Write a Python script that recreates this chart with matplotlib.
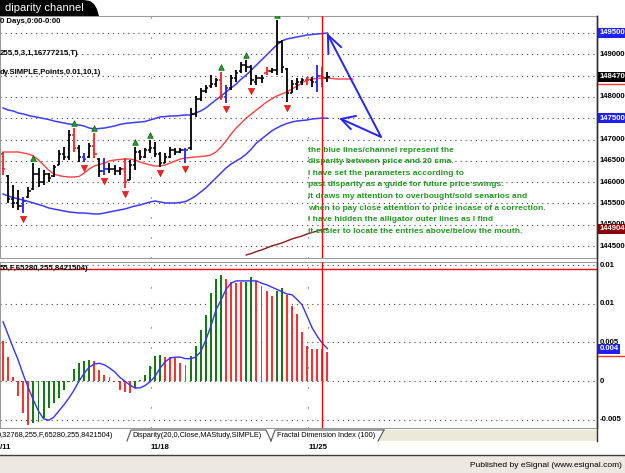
import matplotlib
matplotlib.use("Agg")
import matplotlib.pyplot as plt
from matplotlib.patches import Polygon, Rectangle
from matplotlib.lines import Line2D
import numpy as np

plt.rcParams['font.family'] = ['Liberation Sans', 'DejaVu Sans']

W, H = 625, 473

# price bars (65 bars)
opens = [146650, 146150, 145600, 145500, 145450, 145650, 145850, 146200, 146000, 146200,
         146150, 146400, 146650, 146600, 147100, 146800, 146600, 146600, 146850, 146550,
         146250, 146300, 146300, 146250, 146300, 146050, 146400, 146700, 146600, 146750,
         146800, 146650, 146450, 146600, 146750, 146700, 146750, 146800, 147600, 147950,
         148150, 148250, 148300, 148400, 148000, 148200, 148450, 148600, 148750, 148700,
         148350, 148450, 148550, 148600, 148620, 149300, 148650, 148100, 148300, 148350,
         148400, 148400, 148350, 148500, 148450]
highs = [146710, 146170, 145930, 145815, 145650, 145885, 146450, 146330, 146285, 146215,
         146400, 146755, 146825, 147225, 147270, 146870, 146685, 146920, 147155, 146565,
         146565, 146450, 146400, 146355, 146565, 146520, 146825, 146755, 146800, 146990,
         146940, 146705, 146685, 146825, 146800, 146800, 146800, 147740, 148020, 148210,
         148280, 148515, 148445, 148585, 148280, 148515, 148630, 148820, 148865, 148750,
         148515, 148515, 148700, 148680, 149805, 149335, 148680, 148395, 148445, 148445,
         148465, 148465, 148750, 148700, 148585]
lows = [146170, 145510, 145390, 145345, 145275, 145625, 145815, 145885, 145930, 146005,
        146120, 146400, 146520, 146520, 146710, 146470, 146470, 146565, 146565, 146120,
        146165, 146215, 146165, 146165, 145860, 146050, 146285, 146520, 146565, 146685,
        146590, 146355, 146450, 146565, 146635, 146685, 146450, 146755, 147530, 147905,
        148090, 148210, 148235, 147930, 147855, 148160, 148350, 148560, 148585, 148280,
        148280, 148325, 148515, 148560, 148515, 148560, 147880, 148090, 148160, 148280,
        148280, 148235, 148115, 148235, 148350]
closes = [146300, 145600, 145500, 145450, 145550, 145800, 146200, 146000, 146200, 146100,
          146350, 146650, 146600, 147100, 146800, 146600, 146550, 146850, 146650, 146250,
          146300, 146300, 146250, 146300, 146000, 146400, 146700, 146600, 146750, 146800,
          146650, 146450, 146600, 146750, 146700, 146750, 146750, 147600, 147950, 148150,
          148200, 148300, 148400, 148000, 148200, 148450, 148550, 148750, 148700, 148400,
          148450, 148450, 148600, 148620, 149300, 148700, 148100, 148300, 148350, 148400,
          148400, 148350, 148500, 148450, 148470]
red_bars = [0, 14, 18, 24, 43, 52, 60, 63]
blue_bars = [4, 16, 20, 36, 44, 62]
up_fractals = [6, 14, 18, 26, 29, 43, 48, 54]
down_fractals = [4, 16, 20, 24, 31, 36, 44, 49, 56]

# disparity channel
upper_band = [147740, 147693, 147670, 147623, 147599, 147564, 147540, 147517, 147493, 147470,
              147435, 147411, 147388, 147364, 147353, 147341, 147317, 147270, 147247, 147259,
              147270, 147294, 147317, 147353, 147376, 147388, 147400, 147411, 147423, 147458,
              147493, 147529, 147540, 147552, 147552, 147564, 147576, 147576, 147623, 147670,
              147740, 147834, 147928, 148021, 148115, 148209, 148303, 148420, 148514, 148632,
              148749, 148866, 148984, 149101, 149218, 149312, 149359, 149383, 149406, 149430,
              149453, 149465, 149477, 149488, 149500]
lower_band = [145721, 145674, 145639, 145604, 145580, 145545, 145510, 145475, 145440, 145393,
              145369, 145346, 145322, 145299, 145287, 145275, 145275, 145264, 145252, 145252,
              145275, 145299, 145322, 145346, 145369, 145404, 145440, 145463, 145498, 145533,
              145557, 145533, 145510, 145510, 145510, 145522, 145545, 145604, 145674, 145768,
              145862, 145979, 146097, 146214, 146332, 146425, 146496, 146566, 146660, 146777,
              146918, 147012, 147106, 147200, 147270, 147329, 147376, 147411, 147435, 147447,
              147458, 147482, 147493, 147505, 147500]
sma20 = [146707, 146707, 146707, 146707, 146684, 146660, 146613, 146519, 146402, 146284,
         146190, 146155, 146132, 146120, 146120, 146132, 146214, 146308, 146378, 146414,
         146449, 146496, 146519, 146531, 146543, 146543, 146519, 146472, 146437, 146402,
         146378, 146378, 146402, 146449, 146496, 146543, 146566, 146578, 146590, 146601,
         146613, 146637, 146707, 146824, 146965, 147130, 147270, 147388, 147505, 147599,
         147693, 147787, 147881, 147951, 148021, 148068, 148115, 148186, 148256, 148327,
         148397, 148420, 148432, 148444, 148444, 148432, 148420, 148420, 148420, 148420]
lips = [144290, 144325, 144372, 144407, 144454, 144501, 144536, 144571, 144619, 144666,
        144701, 144736, 144783, 144818, 144853, 144888, 144904]
lips_start = 48

# disparity histogram
hist = [0.0052, 0.0031, 0.0005, -0.0020, -0.0041, -0.0057, -0.0055, -0.0053, -0.0048, -0.0035,
        -0.0029, -0.0022, -0.0012, -0.0001, 0.0016, 0.0024, 0.0026, 0.0027, 0.0026, 0.0014,
        0.0008, 0.0005, -0.0001, -0.0012, -0.0014, -0.0016, -0.0009, 0.0001, 0.0008, 0.0019,
        0.0033, 0.0034, 0.0031, 0.0031, 0.0030, 0.0024, 0.0021, 0.0032, 0.0046, 0.0066,
        0.0086, 0.0114, 0.0133, 0.0137, 0.0132, 0.0129, 0.0127, 0.0128, 0.0129, 0.0135,
        0.0130, 0.0123, 0.0117, 0.0111, 0.0117, 0.0121, 0.0112, 0.0097, 0.0087, 0.0063,
        0.0045, 0.0042, 0.0041, 0.0041, 0.0038]
hist_cols = "rrrrrr" + "gggggggggggg" + "rrrrrrrr" + "gggggg" + "rrrrr" + "ggggggg" + \
            "rrrr" + "gg" + "rrrr" + "gg" + "rrrrrrr" + "b" + "r"
hist_ma = [0.0077, 0.0060, 0.0043, 0.0027, 0.0008, -0.0009, -0.0025, -0.0039, -0.0049, -0.0051,
           -0.0047, -0.0039, -0.0031, -0.0022, -0.0012, 0.0000, 0.0010, 0.0018, 0.0022, 0.0023,
           0.0021, 0.0017, 0.0012, 0.0005, 0.0000, -0.0005, -0.0009, -0.0009, -0.0006, -0.0001,
           0.0006, 0.0017, 0.0025, 0.0030, 0.0031, 0.0031, 0.0029, 0.0029, 0.0031, 0.0038,
           0.0053, 0.0071, 0.0092, 0.0105, 0.0119, 0.0127, 0.0130, 0.0130, 0.0130, 0.0130,
           0.0130, 0.0127, 0.0125, 0.0122, 0.0119, 0.0116, 0.0113, 0.0112, 0.0106, 0.0099,
           0.0084, 0.0069, 0.0058, 0.0049, 0.0042]

dates = ['11/11', '11/18', '11/25']
date_pos = [-2.0, 29.2, 60.2]
cursor_bar = 63
cursor_val = 0.0146
price_marker = 148300
disp_marker = 0.0033

price_ticks = [149500, 149000, 148500, 148000, 147500, 147000, 146500, 146000, 145500, 145000, 144500]
disp_ticks = [0.015, 0.01, 0.005, 0.0, -0.005]
disp_labels = ['0.01', '0.01', '0.005', '0', '-0.005']

note = ["the blue lines/channel represent the",
        "disparity between price and 20 sma.",
        "I have set the parameters according to",
        "past disparity as a guide for future price swings.",
        "It draws my attention to overbought/sold senarios and",
        "when to pay close attention to price incase of a correction.",
        "I have hidden the alligator outer lines as I find",
        "it easier to locate the entries above/below the mouth."]

# hand drawn arrows (bar index, price)
arrow_shaft = [(64.1, 149453), (74.6, 147059), (66.7, 147482)]
arrow_heads = [[(66.7, 149171), (64.1, 149453), (64.2, 149010)],
               [(69.6, 147552), (66.7, 147482), (68.6, 147247)]]


def fx(x):
    return x / W


def fy(y):
    return 1 - y / H


def fig_line(fig, pts, **kw):
    fig.add_artist(Line2D([fx(p[0]) for p in pts], [fy(p[1]) for p in pts],
                          transform=fig.transFigure, **kw))


fig = plt.figure(figsize=(6.25, 4.73), dpi=100)
fig.patch.set_facecolor('white')

ax1 = fig.add_axes([0, fy(258), fx(597), (258 - 16) / H])
ax2_bottom, ax2_height = fy(428), (428 - 262) / H
ax2 = fig.add_axes([0, ax2_bottom, fx(597), ax2_height])

for ax in (ax1, ax2):
    ax.set_xlim(-0.6, 117.2)
    ax.set_xticks([])
    ax.set_yticks([])
    for s in ax.spines.values():
        s.set_color('#9a9a9a')
        s.set_linewidth(0.8)
    ax.spines['right'].set_color('#303030')
    ax.spines['right'].set_linewidth(1.0)
    for d in date_pos[1:]:
        ax.axvline(d, color='#555555', lw=0.8, ls=(0, (1, 17)), zorder=0)

ax1.set_ylim(144219, 149899)
ax2.set_ylim(-0.0061, 0.01545)

# dotted grid
for p in price_ticks:
    ax1.axhline(p, color='#444444', lw=0.8, ls=(0, (1, 3.6)), zorder=0)
for v in disp_ticks:
    ax2.axhline(v, color='#444444', lw=0.8, ls=(0, (1, 3.6)), zorder=0)

# top panel
idx = np.arange(len(highs))
cols = ['black'] * len(highs)
for i in red_bars:
    cols[i] = '#ff2020'
for i in blue_bars:
    cols[i] = '#2020ff'

ax1.plot(np.arange(len(upper_band)), upper_band, color='#3c3cff', lw=1.1, zorder=2)
ax1.plot(np.arange(len(lower_band)), lower_band, color='#3c3cff', lw=1.1, zorder=2)
ax1.plot(np.arange(len(sma20)), sma20, color='#ff4040', lw=1.0, zorder=2)
ax1.plot(np.arange(lips_start, lips_start + len(lips)), lips, color='#8b1a1a', lw=1.0, zorder=2)

ax1.vlines(idx, lows, highs, colors=cols, lw=1.3, zorder=3)
ax1.hlines(opens, idx - 0.45, idx, colors=cols, lw=1.1, zorder=3)
ax1.hlines(closes, idx, idx + 0.45, colors=cols, lw=1.1, zorder=3)

ax1.scatter(up_fractals, [highs[i] + 120 for i in up_fractals], marker='^', s=16,
            color='#22a022', edgecolors='#0b5a0b', linewidths=0.5, zorder=4)
ax1.scatter(down_fractals, [lows[i] - 150 for i in down_fractals], marker='v', s=20,
            color='#ff2020', edgecolors='#cc0000', linewidths=0.4, zorder=4)

ax1.plot([p[0] for p in arrow_shaft], [p[1] for p in arrow_shaft], color='#2424ff',
         lw=1.4, clip_on=False, zorder=5)
for head in arrow_heads:
    ax1.plot([p[0] for p in head], [p[1] for p in head], color='#2424ff', lw=1.4,
             clip_on=False, zorder=5)

ax1.axvline(cursor_bar, color='red', lw=1.0, zorder=4)

# bottom panel
bar_colors = {'r': '#ff3030', 'g': '#127a12', 'b': '#2a8ad8'}
ax2.bar(idx, hist, width=0.38, color=[bar_colors[c] for c in hist_cols], zorder=2)
ax2.plot(np.arange(len(hist_ma)), hist_ma, color='#3434ff', lw=1.0, zorder=3)
ax2.axvline(cursor_bar, color='red', lw=1.0, zorder=4)
ax2.axhline(cursor_val, color='red', lw=1.0, zorder=4)

# right axis labels
lab = dict(fontsize=5.6, fontweight='bold', va='center', ha='left', clip_on=False)
tr1 = ax1.get_yaxis_transform()
for p in price_ticks:
    ax1.text(1.004, p, str(p), transform=tr1, zorder=5, **lab)
ax1.plot([1.0, 1.06], [price_marker, price_marker], transform=tr1, color='#ff3030',
         lw=1.0, clip_on=False, zorder=6)
for v, c in [(upper_band[-1], '#2020ff'), (closes[-1], 'black'),
             (lower_band[-1], '#2020ff'), (lips[-1], '#8b0000')]:
    ax1.text(1.004, v, '%d' % v, transform=tr1, color='white', zorder=7,
             bbox=dict(boxstyle='square,pad=0.2', fc=c, ec='none'), **lab)

tr2 = ax2.get_yaxis_transform()
for v, t in zip(disp_ticks, disp_labels):
    ax2.text(1.004, v, t, transform=tr2, zorder=5, **lab)
ax2.plot([1.0, 1.06], [disp_marker, disp_marker], transform=tr2, color='#ff3030',
         lw=1.0, clip_on=False, zorder=6)
ax2.text(1.004, hist_ma[-1], '%.3f' % hist_ma[-1], transform=tr2, color='white', zorder=7,
         bbox=dict(boxstyle='square,pad=0.2', fc='#2020ff', ec='none'), **lab)

# study labels
small = dict(fontsize=5.6, fontweight='bold', va='center', ha='left')
fig.text(fx(0), fy(21.5), '0 Days,0:00-0:00', **small)
fig.text(fx(0), fy(53), '255,5,3,1,16777215,T)', **small)
fig.text(fx(0), fy(73), 'dy.SIMPLE,Points,0.01,10,1)', **small)
fig.text(fx(0), fy(268), '55,F,65280,255,8421504)', **small)

# green note
for k, line in enumerate(note):
    fig.text(fx(308), fy(150 + k * 11.6), line, color='#229922', fontsize=6,
             fontweight='bold', va='center', ha='left')

# title tab
tab = [(0, 16), (0, 0), (84, 0), (90, 1), (94, 4), (97, 9), (99, 16)]
fig.add_artist(Polygon([(fx(x), fy(y)) for x, y in tab], closed=True,
                       transform=fig.transFigure, fc='black', ec='none'))
fig.text(fx(5), fy(8), 'diparity channel', color='white', fontsize=8, va='center', ha='left')

# tab strip under the lower panel
fig.add_artist(Polygon([(fx(x), fy(y)) for x, y in [(378, 441), (384, 430), (597, 430), (597, 441)]],
                       closed=True, transform=fig.transFigure, fc='#ece9d8', ec='none'))
fig_line(fig, [(127, 441), (131, 430), (266, 430), (271, 441)], color='#555555', lw=0.8)
fig_line(fig, [(271, 441), (275, 430), (378, 430), (384, 430)], color='#555555', lw=0.8)
fig_line(fig, [(378, 441), (384, 430)], color='#555555', lw=0.8)
fig_line(fig, [(597, 16), (597, 441)], color='#303030', lw=1.0)
tabtxt = dict(fontsize=5.3, va='center', ha='left')
fig.text(fx(-3), fy(435.5), '0,32768,255,F,65280,255,8421504)', **tabtxt)
fig.text(fx(132), fy(435.5), 'Disparity(20,0,Close,MAStudy,SIMPLE)', **tabtxt)
fig.text(fx(277), fy(435.5), 'Fractal Dimension Index (100)', **tabtxt)

# date labels
ydate = (fy(447) - ax2_bottom) / ax2_height
for d, t in zip(date_pos, dates):
    ax2.text(d, ydate, t, transform=ax2.get_xaxis_transform(), fontsize=5.6,
             fontweight='bold', va='center', ha='left', clip_on=False)

# footer
fig_line(fig, [(0, 455), (625, 455)], color='#404040', lw=1.0)
fig.add_artist(Rectangle((0, 0), 1, (473 - 456) / H, transform=fig.transFigure,
                         fc='#ebe9e1', ec='none'))
fig.text(fx(622), fy(465), 'Published by eSignal (www.esignal.com)', fontsize=6,
         va='center', ha='right')

fig.savefig('out.png', dpi=100)
